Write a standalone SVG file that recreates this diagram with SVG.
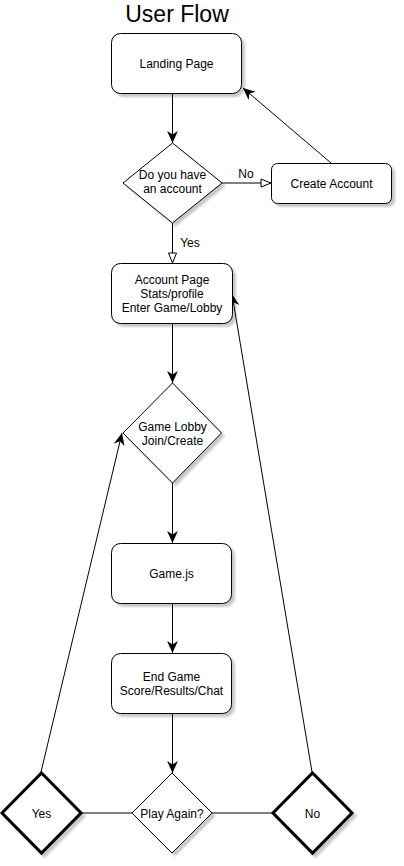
<svg xmlns="http://www.w3.org/2000/svg" width="404" height="866" viewBox="0 0 404 866">
<style>
.n{fill:#fff;stroke:#000;stroke-width:1;filter:url(#sh)}
.t{stroke-width:3}
.lbl{font-family:"Liberation Sans",Arial,sans-serif;font-size:12px;fill:#000;text-anchor:middle}
.e{fill:none;stroke:#000;stroke-width:1}
</style>
<defs>
<filter id="sh" x="-20%" y="-20%" width="150%" height="150%">
<feDropShadow dx="3" dy="3" stdDeviation="1.2" flood-color="#000" flood-opacity="0.22"/>
</filter>
<marker id="ar" markerUnits="userSpaceOnUse" markerWidth="12" markerHeight="12" viewBox="0 0 10 10" refX="10" refY="5" orient="auto">
<path d="M0,0.5 L10,5 L0,9.5 L3,5 z" fill="#000"/>
</marker>
<marker id="op" markerUnits="userSpaceOnUse" markerWidth="12" markerHeight="12" viewBox="0 0 12 12" refX="11" refY="6" orient="auto">
<path d="M1,2 L11,6 L1,10 z" fill="#fff" stroke="#000" stroke-width="1"/>
</marker>
</defs>
<rect width="404" height="866" fill="#fff"/>
<text x="177" y="21.5" font-family="'Liberation Sans',Arial,sans-serif" font-size="23" text-anchor="middle" fill="#000">User Flow</text>
<g id="connectors">
<line class="e" x1="172.5" y1="93" x2="172.5" y2="143" marker-end="url(#ar)"/>
<line class="e" x1="222" y1="183" x2="271" y2="183" marker-end="url(#op)"/>
<text class="lbl" x="246" y="178">No</text>
<line class="e" x1="331" y1="163" x2="243" y2="88" marker-end="url(#ar)"/>
<line class="e" x1="172.5" y1="223" x2="172.5" y2="263" marker-end="url(#op)"/>
<text class="lbl" x="190" y="247">Yes</text>
<line class="e" x1="172.5" y1="323" x2="172.5" y2="383" marker-end="url(#ar)"/>
<line class="e" x1="172.5" y1="483" x2="172.5" y2="543" marker-end="url(#ar)"/>
<line class="e" x1="172.5" y1="603" x2="172.5" y2="653" marker-end="url(#ar)"/>
<line class="e" x1="172.5" y1="713" x2="172.5" y2="773" marker-end="url(#ar)"/>
<line class="e" x1="82" y1="813" x2="132" y2="813"/>
<line class="e" x1="212" y1="813" x2="272" y2="813"/>
<line class="e" x1="41" y1="772" x2="122" y2="433" marker-end="url(#ar)"/>
<line class="e" x1="312" y1="772" x2="232" y2="294" marker-end="url(#ar)"/>
</g>
<g id="landing">
<rect class="n" x="111.5" y="33.5" width="130" height="60" rx="9"/>
<text class="lbl" x="176.5" y="67.5">Landing Page</text>
</g>
<g id="have-account">
<path class="n" d="M172.5,143 L222,183 L172.5,223 L123,183 z"/>
<text class="lbl" x="172.5" y="179">Do you have</text>
<text class="lbl" x="172.5" y="193">an account</text>
</g>
<g id="create-account">
<rect class="n" x="271.5" y="163.5" width="120" height="40" rx="6"/>
<text class="lbl" x="331.5" y="187.5">Create Account</text>
</g>
<g id="account-page">
<rect class="n" x="111.5" y="263.5" width="121" height="60" rx="9"/>
<text class="lbl" x="172" y="284">Account Page</text>
<text class="lbl" x="172" y="298">Stats/profile</text>
<text class="lbl" x="172" y="312">Enter Game/Lobby</text>
</g>
<g id="game-lobby">
<path class="n" d="M172.5,383 L221.5,433 L172.5,483 L123,433 z"/>
<text class="lbl" x="172.5" y="431">Game Lobby</text>
<text class="lbl" x="172.5" y="445">Join/Create</text>
</g>
<g id="game-js">
<rect class="n" x="111.5" y="543.5" width="120" height="60" rx="9"/>
<text class="lbl" x="171.5" y="578">Game.js</text>
</g>
<g id="end-game">
<rect class="n" x="111.5" y="653.5" width="120" height="60" rx="9"/>
<text class="lbl" x="171.5" y="681">End Game</text>
<text class="lbl" x="171.5" y="695">Score/Results/Chat</text>
</g>
<g id="play-again">
<path class="n" d="M172,773 L212,813 L172,853 L132,813 z"/>
<text class="lbl" x="172" y="817.5">Play Again?</text>
</g>
<g id="yes">
<path class="n t" d="M41.5,773 L81,813 L41.5,853 L2,813 z"/>
<text class="lbl" x="41.5" y="817.5">Yes</text>
</g>
<g id="no">
<path class="n t" d="M312.5,773 L352,813 L312.5,853 L273,813 z"/>
<text class="lbl" x="312.5" y="817.5">No</text>
</g>
</svg>
